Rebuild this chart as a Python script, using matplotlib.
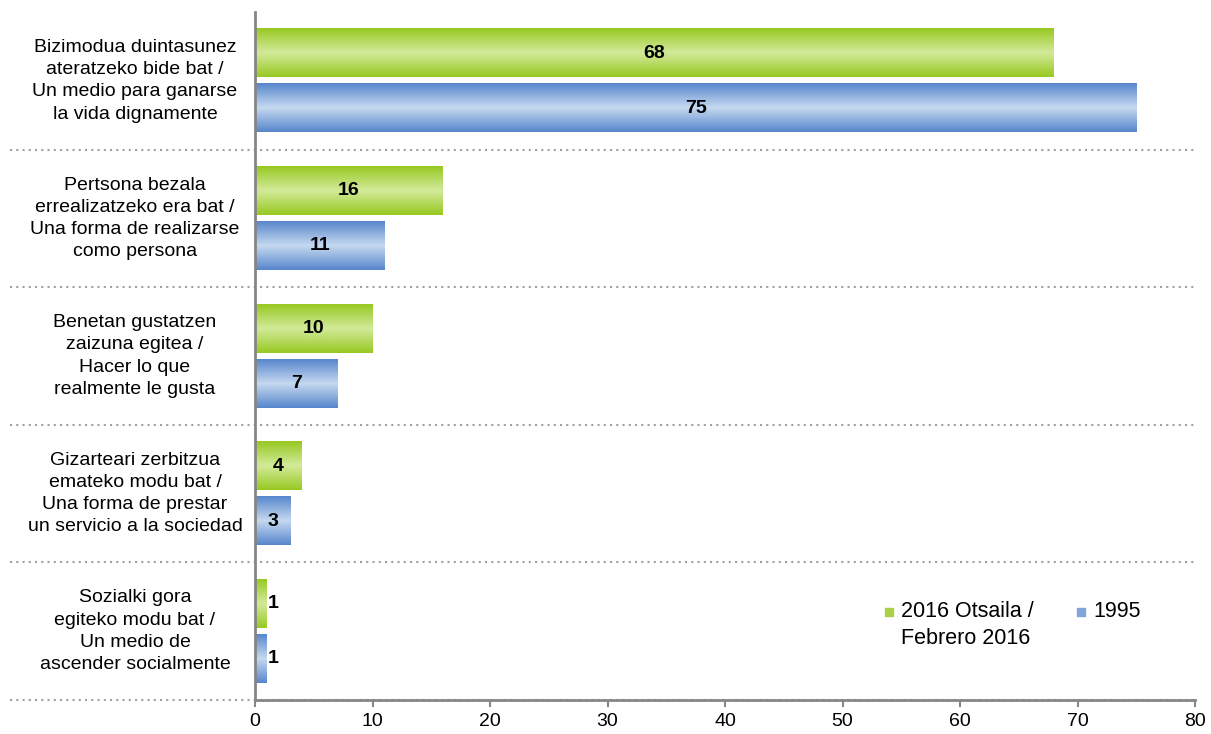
import numpy as np
import matplotlib.pyplot as plt
from matplotlib.colors import LinearSegmentedColormap
from matplotlib.patches import Rectangle

plt.rcParams['font.family'] = ['Liberation Sans', 'DejaVu Sans']

categories = [
    'Bizimodua duintasunez\nateratzeko bide bat /\nUn medio para ganarse\nla vida dignamente',
    'Pertsona bezala\nerrealizatzeko era bat /\nUna forma de realizarse\ncomo persona',
    'Benetan gustatzen\nzaizuna egitea /\nHacer lo que\nrealmente le gusta',
    'Gizarteari zerbitzua\nemateko modu bat /\nUna forma de prestar\nun servicio a la sociedad',
    'Sozialki gora\negiteko modu bat /\nUn medio de\nascender socialmente',
]
values_2016 = [68, 16, 10, 4, 1]
values_1995 = [75, 11, 7, 3, 1]
series_names = ['2016 Otsaila /\nFebrero 2016', '1995']
xticks = [0, 10, 20, 30, 40, 50, 60, 70, 80]

green = LinearSegmentedColormap.from_list('g', ['#98c923', '#d3ea9a', '#98c923'])
blue = LinearSegmentedColormap.from_list('b', ['#5887cc', '#c6d9f0', '#5887cc'])

fig = plt.figure(figsize=(12.11, 7.34), dpi=100)
ax = fig.add_axes([255/1211, 34/734, 940/1211, 688/734])

bar_h = 0.35
gap = 0.05
grad = np.linspace(0, 1, 64).reshape(-1, 1)


def gradient_bar(x, y0, y1, cmap):
    ax.imshow(grad, cmap=cmap, extent=(0, x, y1, y0), aspect='auto',
              interpolation='bilinear', zorder=2)


for i, (a, b) in enumerate(zip(values_2016, values_1995)):
    g0 = i + 0.5 - gap / 2 - bar_h
    b0 = i + 0.5 + gap / 2
    gradient_bar(a, g0, g0 + bar_h, green)
    gradient_bar(b, b0, b0 + bar_h, blue)
    for v, y in ((a, g0 + bar_h / 2), (b, b0 + bar_h / 2)):
        if v >= 3:
            ax.text(v / 2, y, str(v), ha='center', va='center',
                    fontsize=14, fontweight='bold', zorder=3)
        else:
            ax.text(v + 0.1, y, str(v), ha='left', va='center',
                    fontsize=14, fontweight='bold', zorder=3)
    # category label
    ax.text(-(255 - 135) / 11.75, i + 0.5, categories[i], ha='center', va='center',
            fontsize=14, linespacing=1.4)
    # dotted separator
    ax.plot([-(255 - 10) / 11.75, 80], [i + 1, i + 1], ls=(0, (1, 2)),
            color='#a0a0a0', lw=1.5, clip_on=False, zorder=1)

ax.set_xlim(0, 80)
ax.set_ylim(5, 0)
ax.set_xticks(xticks)
ax.set_yticks([])
ax.tick_params(axis='x', length=5, width=1.5, color='#868686', labelsize=14, pad=4)
for s in ['top', 'right']:
    ax.spines[s].set_visible(False)
for s in ['left', 'bottom']:
    ax.spines[s].set_color('#868686')
    ax.spines[s].set_linewidth(2)
    ax.spines[s].set_zorder(4)

# legend
for x_px, name, col in ((885, series_names[0], '#a8d145'), (1077, series_names[1], '#7fa5da')):
    fig.patches.append(Rectangle((x_px / 1211, 1 - 616 / 734), 8 / 1211, 8 / 734,
                                 transform=fig.transFigure, color=col))
    fig.text((x_px + 16) / 1211, 1 - 601 / 734, name, ha='left', va='top',
             fontsize=15.5, linespacing=1.4)

fig.savefig('out.png', dpi=100)
